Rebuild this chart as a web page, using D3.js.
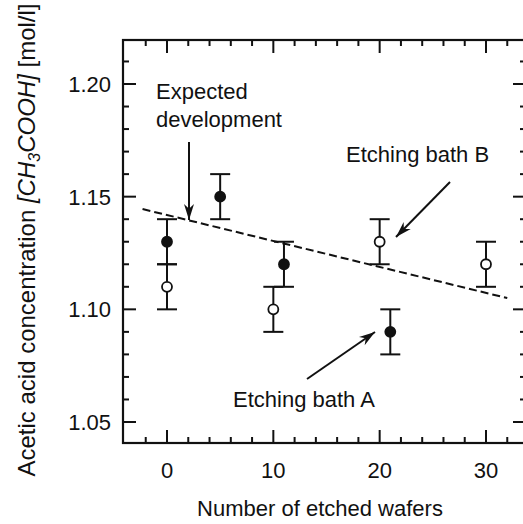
<!DOCTYPE html>
<html>
<head>
<meta charset="utf-8">
<script src="https://cdn.jsdelivr.net/npm/d3@7"></script>
<style>
  html, body { margin: 0; padding: 0; background: #fff; }
  svg text { font-family: "Liberation Sans", Arial, sans-serif; fill: #111; }
</style>
</head>
<body>
<svg id="chart" width="523" height="524"></svg>
<script>
// Etching bath A (filled markers)
const bathA_wafers = [0, 5, 11, 21];
const bathA_conc   = [1.13, 1.15, 1.12, 1.09];
const bathA_err    = [0.01, 0.01, 0.01, 0.01];

// Etching bath B (open markers)
const bathB_wafers = [0, 10, 20, 30];
const bathB_conc   = [1.11, 1.10, 1.13, 1.12];
const bathB_err    = [0.01, 0.01, 0.01, 0.01];

// Expected development (dashed trend line end points)
const trend_wafers = [-2.3, 32];
const trend_conc   = [1.1445, 1.105];

const xTickValues = [0, 10, 20, 30];
const yTickValues = [1.05, 1.10, 1.15, 1.20];
const yTickLabels = ["1.05", "1.10", "1.15", "1.20"];

const svg = d3.select("#chart");

const x = d3.scaleLinear().domain([0, 30]).range([167, 486]);
const y = d3.scaleLinear().domain([1.05, 1.20]).range([422, 84]);

// plot frame
const frame = { left: 123, right: 526, top: 40, bottom: 443 };

const xMinor = d3.range(-4, 35, 2).filter(v => x(v) > frame.left + 3 && x(v) < frame.right - 3);
const yMinor = d3.range(1.04, 1.2201, 0.01).filter(v => y(v) < frame.bottom - 3 && y(v) > frame.top + 3);

const axisG = svg.append("g").attr("stroke", "#111").attr("stroke-width", 2);

const isMajorX = v => xTickValues.some(t => Math.abs(t - v) < 1e-6);
const isMajorY = v => yTickValues.some(t => Math.abs(t - v) < 1e-6);

// ticks pointing inward on all four sides
xMinor.forEach(v => {
  const len = isMajorX(v) ? 13 : 6;
  axisG.append("line").attr("x1", x(v)).attr("x2", x(v)).attr("y1", frame.bottom).attr("y2", frame.bottom - len);
  axisG.append("line").attr("x1", x(v)).attr("x2", x(v)).attr("y1", frame.top).attr("y2", frame.top + len);
});
yMinor.forEach(v => {
  const len = isMajorY(v) ? 13 : 6;
  axisG.append("line").attr("y1", y(v)).attr("y2", y(v)).attr("x1", frame.left).attr("x2", frame.left + len);
  axisG.append("line").attr("y1", y(v)).attr("y2", y(v)).attr("x1", frame.right).attr("x2", frame.right - len);
});

svg.append("rect")
  .attr("x", frame.left).attr("y", frame.top)
  .attr("width", frame.right - frame.left).attr("height", frame.bottom - frame.top)
  .attr("fill", "none").attr("stroke", "#111").attr("stroke-width", 2.2);

// tick labels
svg.append("g").selectAll("text").data(xTickValues).join("text")
  .attr("x", d => x(d)).attr("y", 478)
  .attr("text-anchor", "middle").attr("font-size", 22)
  .text(d => d);

svg.append("g").selectAll("text").data(yTickValues).join("text")
  .attr("x", 111).attr("y", d => y(d) + 8)
  .attr("text-anchor", "end").attr("font-size", 22)
  .text((d, i) => yTickLabels[i]);

// axis titles
svg.append("text")
  .attr("x", 320).attr("y", 516)
  .attr("text-anchor", "middle").attr("font-size", 22)
  .text("Number of etched wafers");

const yTitle = svg.append("text")
  .attr("transform", "translate(35,240) rotate(-90)")
  .attr("text-anchor", "middle").attr("font-size", 24);
yTitle.append("tspan").text("Acetic acid concentration ");
yTitle.append("tspan").attr("font-style", "italic").text("[CH");
yTitle.append("tspan").attr("font-style", "italic").attr("font-size", 16).attr("dy", 5).text("3");
yTitle.append("tspan").attr("font-style", "italic").attr("dy", -5).text("COOH]");
yTitle.append("tspan").text(" [mol/l]");

// dashed expected-development line
svg.append("line")
  .attr("x1", x(trend_wafers[0])).attr("y1", y(trend_conc[0]))
  .attr("x2", x(trend_wafers[1])).attr("y2", y(trend_conc[1]))
  .attr("stroke", "#111").attr("stroke-width", 2)
  .attr("stroke-dasharray", "8,4");

// error bars + markers
function drawSeries(wafers, conc, err, filled) {
  const data = wafers.map((w, i) => ({ w, c: conc[i], e: err[i] }));
  const g = svg.append("g").attr("stroke", "#111").attr("stroke-width", 2);
  data.forEach(d => {
    const cx = x(d.w);
    g.append("line").attr("x1", cx).attr("x2", cx).attr("y1", y(d.c - d.e)).attr("y2", y(d.c + d.e));
    g.append("line").attr("x1", cx - 10).attr("x2", cx + 10).attr("y1", y(d.c - d.e)).attr("y2", y(d.c - d.e));
    g.append("line").attr("x1", cx - 10).attr("x2", cx + 10).attr("y1", y(d.c + d.e)).attr("y2", y(d.c + d.e));
  });
  svg.append("g").selectAll("circle").data(data).join("circle")
    .attr("cx", d => x(d.w)).attr("cy", d => y(d.c)).attr("r", 5)
    .attr("fill", filled ? "#111" : "#fff")
    .attr("stroke", "#111").attr("stroke-width", 1.8);
}
drawSeries(bathB_wafers, bathB_conc, bathB_err, false);
drawSeries(bathA_wafers, bathA_conc, bathA_err, true);

// annotation arrows
function arrow(x1, y1, x2, y2) {
  svg.append("line").attr("x1", x1).attr("y1", y1).attr("x2", x2).attr("y2", y2)
    .attr("stroke", "#111").attr("stroke-width", 2);
  const ang = Math.atan2(y2 - y1, x2 - x1);
  const L = 16, W = 5;
  const bx = x2 - L * Math.cos(ang), by = y2 - L * Math.sin(ang);
  const nx = -Math.sin(ang), ny = Math.cos(ang);
  const mx = x2 - (L * 0.7) * Math.cos(ang), my = y2 - (L * 0.7) * Math.sin(ang);
  svg.append("path")
    .attr("d", `M${x2},${y2} L${bx + nx * W},${by + ny * W} L${mx},${my} L${bx - nx * W},${by - ny * W} Z`)
    .attr("fill", "#111");
}
arrow(189, 142, 189, 220);
arrow(450, 182, 396, 237);
arrow(307, 379, 375, 332);

// annotation labels
const ann = svg.append("g").attr("font-size", 22);
ann.append("text").attr("x", 156).attr("y", 99).text("Expected");
ann.append("text").attr("x", 156).attr("y", 127).text("development");
ann.append("text").attr("x", 346).attr("y", 162).text("Etching bath B");
ann.append("text").attr("x", 233).attr("y", 407).text("Etching bath A");
</script>
</body>
</html>
